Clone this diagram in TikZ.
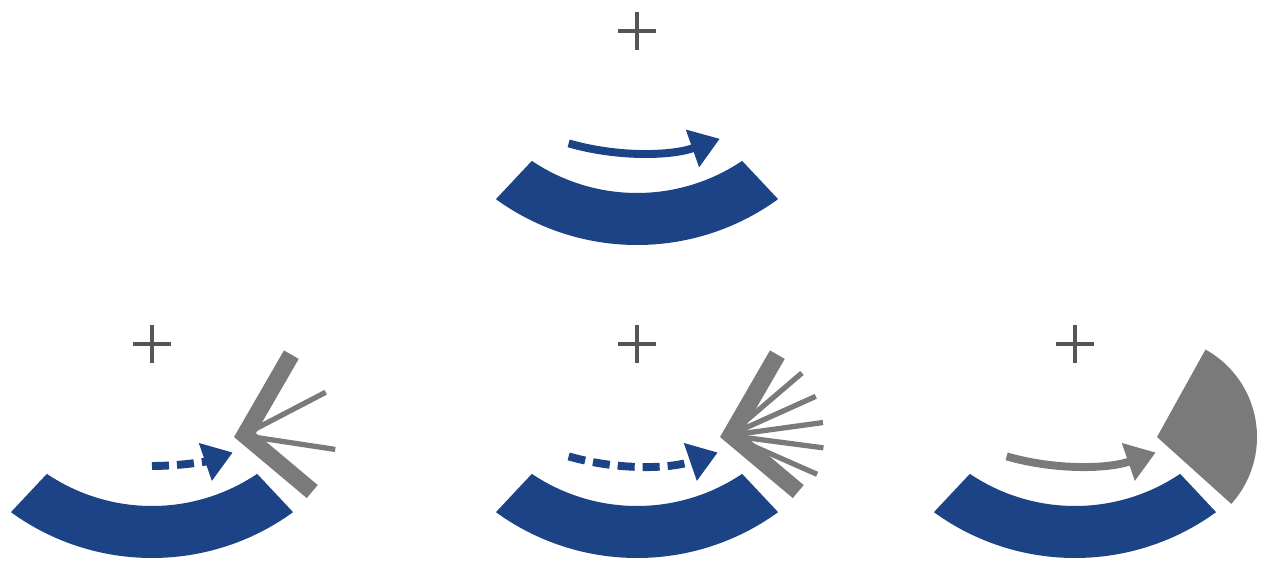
\documentclass[tikz,border=0pt]{standalone}
\usepackage{tikz}
\usetikzlibrary{arrows.meta, calc}
\definecolor{FlowBlue}{RGB}{27, 67, 133}
\definecolor{WallGray}{RGB}{122, 122, 122}
\definecolor{CrossGray}{RGB}{85, 85, 85}
\tikzset{
  band/.style={fill=FlowBlue, draw=none},
  cross/.style={draw=CrossGray, line width=2.2pt},
  flow/.style={-{Triangle[length=5.8mm, width=7.6mm]}, line width=4.5pt, draw=#1},
  dashflow/.style={flow=#1, dash pattern=on 3.4mm off 1.6mm},
  wall/.style={fill=WallGray, draw=none},
  ray/.style={draw=WallGray, line width=3pt},
}
\begin{document}
\begin{tikzpicture}[x=0.2mm, y=0.2mm]
  \useasboundingbox[fill=white] (0,0) rectangle (1264,562);

  %% PANEL CENTRES (plus marks)
  \coordinate (cTop)   at (637,531);
  \coordinate (cLeft)  at (152,218);
  \coordinate (cMid)   at (637,218);
  \coordinate (cRight) at (1075,218);

  %% PLUS MARKS AND BLUE BANDS
  \foreach \c in {cTop,cLeft,cMid,cRight}{
    \draw[cross] ($(\c)+(-19,0)$) -- ($(\c)+(19,0)$);
    \draw[cross] ($(\c)+(0,-19)$) -- ($(\c)+(0,19)$);
    \fill[band] ($(\c)+(0,26)+(236:188)$) arc (236:304:188)
                -- ($(\c)+(0,26)+(306:240)$) arc (306:234:240) -- cycle;
  }

  %% TOP: free flow
  \draw[flow=FlowBlue] ($(cTop)+(0,126)+(254:248)$) arc (254:289.5:248);

  %% LEFT: short dashed flow, wall with two rays
  \coordinate (wLeft) at ($(cLeft)+(82,-93)$);
  \coordinate (wLeftIn) at ($(wLeft)+(10:22.2)$);
  \draw[dashflow=FlowBlue] ($(cLeft)+(0,126)+(270:248)$) arc (270:289:248);
  \foreach \a in {26,-7}
    \draw[ray] ($(wLeft)+(10:9)$) -- ($(wLeft)+(\a:102)$);
  \fill[wall] (wLeft) -- ++(60:100) -- ++(-30:17) -- (wLeftIn)
              -- ($(wLeft)+(-40:95)+(50:17)$) -- ($(wLeft)+(-40:95)$) -- cycle;

  %% MIDDLE: long dashed flow, wall with five rays
  \coordinate (wMid) at ($(cMid)+(83,-93)$);
  \coordinate (wMidIn) at ($(wMid)+(10:22.2)$);
  \draw[dashflow=FlowBlue] ($(cMid)+(0,126)+(254:248)$) arc (254:289:248);
  \foreach \a in {38,23,8,-6,-21}
    \draw[ray] ($(wMid)+(10:9)$) -- ($(wMid)+(\a:104)$);
  \fill[wall] (wMid) -- ++(60:100) -- ++(-30:17) -- (wMidIn)
              -- ($(wMid)+(-40:95)+(50:17)$) -- ($(wMid)+(-40:95)$) -- cycle;

  %% RIGHT: gray flow into filled sector
  \coordinate (wRight) at ($(cRight)+(82,-93)$);
  \draw[flow=WallGray] ($(cRight)+(0,126)+(254:248)$) arc (254:289:248);
  \fill[wall] (wRight) -- ++(61:100) arc (61:-42:100) -- cycle;

\end{tikzpicture}
\end{document}
